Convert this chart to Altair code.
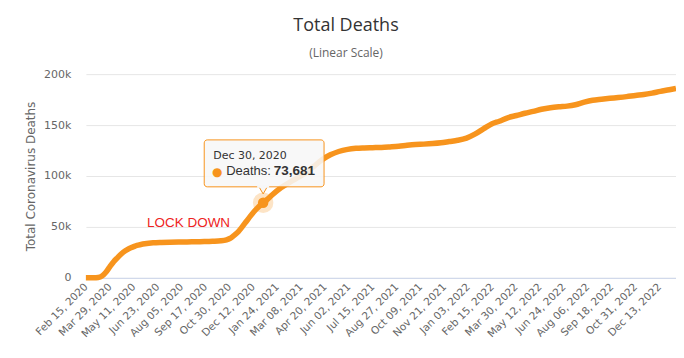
import altair as alt
import pandas as pd

dates = [
    "2020-02-15", "2020-02-21", "2020-02-29", "2020-03-08", "2020-03-15", "2020-03-22",
    "2020-03-29", "2020-04-05", "2020-04-12", "2020-04-19", "2020-04-26", "2020-05-03",
    "2020-05-10", "2020-05-17", "2020-05-24", "2020-05-31", "2020-06-15", "2020-06-30",
    "2020-07-15", "2020-07-31", "2020-08-15", "2020-08-31", "2020-09-15", "2020-09-30",
    "2020-10-15", "2020-10-25", "2020-10-31", "2020-11-07", "2020-11-15", "2020-11-22",
    "2020-11-30", "2020-12-07", "2020-12-15", "2020-12-22", "2020-12-30", "2021-01-07",
    "2021-01-15", "2021-01-31", "2021-02-15", "2021-02-28", "2021-03-15", "2021-03-31",
    "2021-04-15", "2021-04-30", "2021-05-15", "2021-05-31", "2021-06-15", "2021-06-30",
    "2021-07-15", "2021-07-31", "2021-08-15", "2021-08-31", "2021-09-15", "2021-09-30",
    "2021-10-15", "2021-10-31", "2021-11-15", "2021-11-30", "2021-12-15", "2021-12-31",
    "2022-01-15", "2022-01-31", "2022-02-15", "2022-02-28", "2022-03-15", "2022-03-31",
    "2022-04-15", "2022-04-30", "2022-05-15", "2022-05-31", "2022-06-15", "2022-06-30",
    "2022-07-15", "2022-07-31", "2022-08-15", "2022-08-31", "2022-09-15", "2022-09-30",
    "2022-10-15", "2022-10-31", "2022-11-15", "2022-11-30", "2022-12-15", "2022-12-31",
    "2023-01-12",
]
deaths = [
    0, 1, 29, 366, 1809, 5476,
    10779, 15887, 19899, 23660, 26644, 28884,
    30395, 31908, 32735, 33415, 34371, 34767,
    34997, 35146, 35231, 35483, 35633, 35894,
    36372, 37338, 38618, 41394, 45229, 49823,
    55576, 60606, 65857, 69842, 73681, 77291,
    81325, 88516, 93577, 97699, 102499, 109346,
    115937, 120807, 124063, 126128, 127153, 127566,
    127805, 128068, 128579, 129221, 130167, 130921,
    131301, 131856, 132627, 133828, 135049, 137247,
    141104, 146498, 151296, 153767, 157145, 159383,
    161602, 163507, 165489, 167031, 167958, 168604,
    169993, 172552, 174357, 175399, 176292, 177054,
    177941, 179101, 180025, 181419, 183138, 184642,
    186000,
]

tick_dates = [
    "2020-02-15", "2020-03-29", "2020-05-11", "2020-06-23", "2020-08-05", "2020-09-17",
    "2020-10-30", "2020-12-12", "2021-01-24", "2021-03-08", "2021-04-20", "2021-06-02",
    "2021-07-15", "2021-08-27", "2021-10-09", "2021-11-21", "2022-01-03", "2022-02-15",
    "2022-03-30", "2022-05-12", "2022-06-24", "2022-08-06", "2022-09-18", "2022-10-31",
    "2022-12-13",
]
y_ticks = [0, 50000, 100000, 150000, 200000]

hl_date = ["2020-12-30"]
hl_value = [73681]
hl_date_label = ["Dec 30, 2020"]
hl_series_label = ["Deaths:"]
hl_value_label = ["73,681"]

note_date = ["2020-06-04"]
note_value = [50000]
note_text = ["LOCK DOWN"]

ORANGE = "#F7941D"

df = pd.DataFrame({"date": pd.to_datetime(dates), "deaths": deaths})
hl = pd.DataFrame({"date": pd.to_datetime(hl_date), "deaths": hl_value,
                   "dlabel": hl_date_label, "slabel": hl_series_label,
                   "vlabel": hl_value_label})
note = pd.DataFrame({"date": pd.to_datetime(note_date), "deaths": note_value, "text": note_text})

x_scale = alt.Scale(domain=[pd.Timestamp("2020-02-15").isoformat(),
                            pd.Timestamp("2023-01-12").isoformat()], nice=False)
y_scale = alt.Scale(domain=[0, 200000], nice=False)

x_axis = alt.Axis(
    values=[pd.Timestamp(d).isoformat() for d in tick_dates], tickCount=40,
    format="%b %d, %Y", labelAngle=-45, labelAlign="right", labelBaseline="middle",
    labelFont="DejaVu Sans", labelFontSize=10.5, labelColor="#666666",
    ticks=False, grid=False, domainColor="#ccd6eb", domainWidth=1,
    labelPadding=7, title=None, labelOverlap=False, labelFlush=False,
)
y_axis = alt.Axis(
    values=y_ticks, labelExpr="datum.value == 0 ? '0' : format(datum.value / 1000, 'd') + 'k'",
    labelFont="DejaVu Sans", labelFontSize=11, labelColor="#666666", ticks=False,
    domain=False, gridColor="#e6e6e6", labelPadding=15,
    title="Total Coronavirus Deaths", titleFont="DejaVu Sans", titleFontSize=12,
    titleFontWeight="normal", titleColor="#666666", titlePadding=6,
)

base_x = alt.X("date:T", scale=x_scale, axis=x_axis)
base_y = alt.Y("deaths:Q", scale=y_scale, axis=y_axis)

line = alt.Chart(df).mark_line(color=ORANGE, strokeWidth=5.5, interpolate="monotone").encode(
    x=base_x, y=base_y)

lock = alt.Chart(note).mark_text(align="left", baseline="alphabetic", color="#ee2222",
                                 font="Liberation Sans", fontSize=13.5).encode(
    x=alt.X("date:T"), y=alt.Y("deaths:Q"), text="text:N")

halo = alt.Chart(hl).mark_circle(size=420, color=ORANGE, opacity=0.25).encode(
    x="date:T", y="deaths:Q")
dot = alt.Chart(hl).mark_circle(size=110, color=ORANGE, opacity=1).encode(
    x="date:T", y="deaths:Q")

box = alt.Chart(hl).mark_rect(width=120, height=47, xOffset=1, yOffset=-39.5,
                              fill="#f7f7f7", fillOpacity=0.88, stroke=ORANGE,
                              strokeWidth=1, cornerRadius=3).encode(
    x="date:T", y="deaths:Q")
pointer = alt.Chart(hl).mark_point(shape="triangle-down", size=90, filled=True,
                                   fill="#f7f7f7", stroke=ORANGE, strokeWidth=1,
                                   opacity=1, yOffset=-13).encode(
    x="date:T", y="deaths:Q")
cover = alt.Chart(hl).mark_rect(width=12, height=3, yOffset=-16.5, fill="#f7f7f7").encode(
    x="date:T", y="deaths:Q")

t_date = alt.Chart(hl).mark_text(align="left", baseline="alphabetic", dx=-50, dy=-44,
                                 font="DejaVu Sans", fontSize=11, color="#333333").encode(
    x="date:T", y="deaths:Q", text="dlabel:N")
t_bullet = alt.Chart(hl).mark_text(align="center", baseline="middle", dx=-46, dy=-31,
                                   font="DejaVu Sans", fontSize=12, color=ORANGE).encode(
    x="date:T", y="deaths:Q", text=alt.value("●"))
t_lab = alt.Chart(hl).mark_text(align="left", baseline="alphabetic", dx=-37, dy=-28,
                                font="Liberation Sans", fontSize=13, color="#333333").encode(
    x="date:T", y="deaths:Q", text="slabel:N")
t_val = alt.Chart(hl).mark_text(align="right", baseline="alphabetic", dx=52, dy=-28,
                                font="Liberation Sans", fontSize=13.5, fontWeight="bold",
                                color="#333333").encode(
    x="date:T", y="deaths:Q", text="vlabel:N")

chart = alt.layer(line, lock, halo, dot, box, pointer, cover, t_date, t_bullet, t_lab, t_val).properties(
    width=591, height=204,
    autosize=alt.AutoSizeParams(type="none"),
    padding={"left": 78, "top": 66, "right": 0, "bottom": 72},
    title=alt.TitleParams(
        "Total Deaths", subtitle="(Linear Scale)", anchor="middle", dx=-35,
        font="Open Sans", fontSize=18, fontWeight="normal", color="#333333",
        subtitleFont="Open Sans", subtitleFontSize=12, subtitleColor="#666666",
        offset=9, subtitlePadding=13,
    ),
).configure_view(stroke=None)

chart.save("out.html", embed_options={"renderer": "svg", "actions": False})
